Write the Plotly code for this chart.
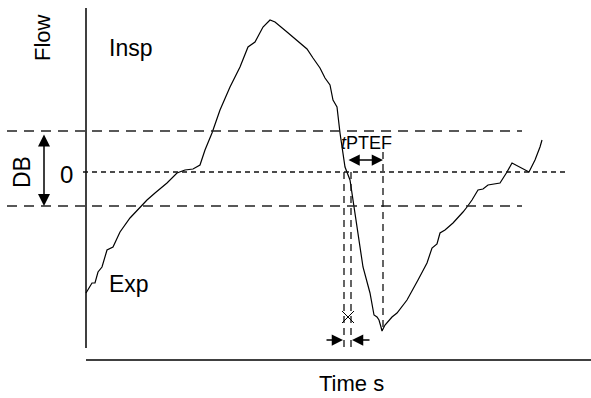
import plotly.graph_objects as go

# Flow curve (time in arbitrary units, flow in arbitrary units; 0 = zero flow)
time = [0, 6, 9, 12, 16, 21, 27, 34, 44, 54, 61, 69, 81, 91, 99, 107, 114, 119, 126, 134,
        144, 154, 162, 169, 177, 184, 189, 201, 214, 221, 227, 234, 239, 244, 247, 251, 254,
        259, 264, 267, 272, 277, 284, 287, 288, 291, 293, 295, 296, 299, 306, 311, 321, 332,
        341, 346, 351, 354, 359, 367, 372, 377, 381, 386, 392, 397, 402, 414, 421, 426, 443,
        449, 454, 456]
flow = [-121, -111, -111, -100, -95, -78, -75, -60, -46, -35, -28, -21, -11, -1, 2, 3, 7, 22,
        39, 62, 85, 105, 125, 130, 145, 152, 150, 140, 129, 123, 114, 104, 94, 87, 72, 65, 39,
        5, -8, -28, -61, -95, -121, -135, -143, -145, -148, -155, -159, -153, -145, -141, -128,
        -108, -91, -76, -72, -61, -58, -51, -46, -40, -35, -28, -18, -17, -13, -11, 0, 9, 0,
        12, 25, 32]

# Dead band thresholds and marker times
db_upper = 41
db_lower = -34
t_cross1 = 258
t_cross2 = 265
t_pef = 297

FONT = "Liberation Sans, Arial, sans-serif"

fig = go.Figure()
fig.add_trace(go.Scatter(x=time, y=flow, mode="lines",
                         line=dict(color="black", width=1.2), showlegend=False,
                         hoverinfo="skip"))

shapes = []
# axes
shapes.append(dict(type="line", x0=0, x1=0, y0=164, y1=-176, line=dict(color="black", width=1.5)))
shapes.append(dict(type="line", x0=0, x1=505, y0=-188, y1=-188, line=dict(color="black", width=1.5)))
# thresholds
for yv in (db_upper, db_lower):
    shapes.append(dict(type="line", x0=-79, x1=436, y0=yv, y1=yv,
                       line=dict(color="#222", width=1.4, dash="10px,7px")))
shapes.append(dict(type="line", x0=-3, x1=481, y0=0, y1=0,
                   line=dict(color="#111", width=1.3, dash="5px,4px")))
# vertical dashed markers
for tv in (t_cross1, t_cross2):
    shapes.append(dict(type="line", x0=tv, x1=tv, y0=0, y1=-176,
                       line=dict(color="#111", width=1.3, dash="7px,5px")))
shapes.append(dict(type="line", x0=t_pef, x1=t_pef, y0=20, y1=-160,
                   line=dict(color="#111", width=1.3, dash="7px,5px")))
# cross mark
shapes.append(dict(type="line", x0=256, x1=268, y0=-139, y1=-151, line=dict(color="black", width=1)))
shapes.append(dict(type="line", x0=256, x1=268, y0=-151, y1=-139, line=dict(color="black", width=1)))

annotations = []
def arrow(x, y, ax, ay, side="end", size=1.5):
    annotations.append(dict(x=x, y=y, ax=ax, ay=ay, xref="x", yref="y", axref="x", ayref="y",
                            text="", showarrow=True, arrowhead=2, arrowsize=size, arrowwidth=1.5,
                            arrowcolor="black", arrowside=side, startarrowhead=2,
                            startarrowsize=size))

arrow(-42, db_lower, -42, db_upper - 2, side="end+start", size=1.6)
arrow(t_pef, 12, 261, 12, side="end+start")
arrow(t_cross1 - 1, -168, 239, -168)
arrow(t_cross2 + 1, -168, 285, -168)

def text(x, y, s, size, angle=0):
    annotations.append(dict(x=x, y=y, xref="x", yref="y", text=s, showarrow=False,
                            textangle=angle, font=dict(family=FONT, size=size, color="black")))

text(-44, 134, "Flow", 22, angle=-90)
text(44, 124, "Insp", 23)
text(43, -112, "Exp", 23)
text(-64, 0, "DB", 23, angle=-90)
text(-20, -2, "0", 24)
text(265, -211, "Time s", 22)
text(280, 29, "<i>t</i>PTEF", 18)

fig.update_layout(
    width=591, height=398, autosize=False,
    margin=dict(l=0, r=0, t=0, b=0),
    paper_bgcolor="white", plot_bgcolor="white",
    xaxis=dict(range=[-86, 505], visible=False, fixedrange=True),
    yaxis=dict(range=[-226, 172], visible=False, fixedrange=True),
    shapes=shapes, annotations=annotations,
)
fig.write_html("out.html", config={"displayModeBar": False},
               post_script="document.body.style.margin='0';document.body.style.overflow='hidden';")
